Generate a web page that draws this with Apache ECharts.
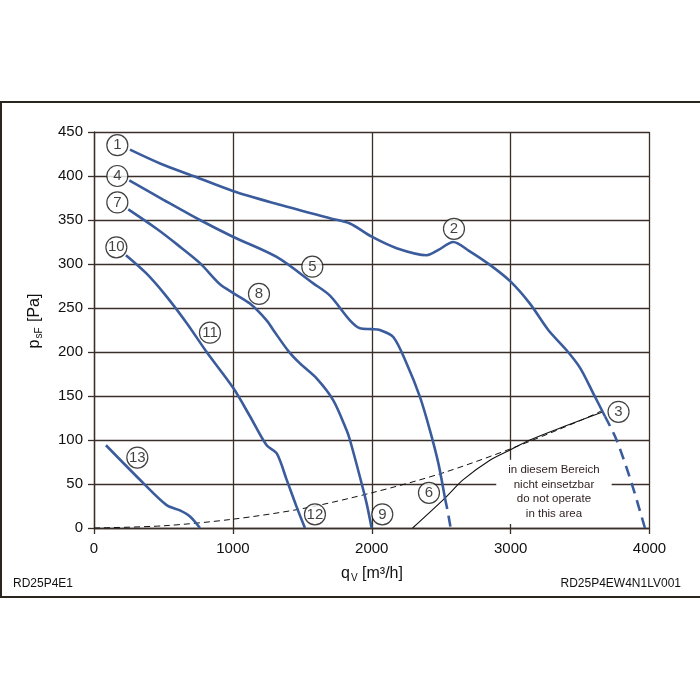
<!DOCTYPE html>
<html>
<head>
<meta charset="utf-8">
<script src="https://cdn.jsdelivr.net/npm/echarts@6/dist/echarts.min.js"></script>
<style>html,body{margin:0;padding:0;background:#fff;}#c{width:700px;height:700px;}</style>
</head>
<body>
<div id="c"></div>
<script>
// ---- data (q in m3/h, p in Pa) ----
var xTicks = [0, 1000, 2000, 3000, 4000];
var yTicks = [0, 50, 100, 150, 200, 250, 300, 350, 400, 450];

var curveA = [[259,430],[480,414],[715,400],[1000,383],[1300,369],[1699,352],[1843,346],[2000,331],[2179,318],[2396,310],[2480,316],[2587,325],[2700,315],[2851,299],[3000,280],[3139,255],[3271,225],[3403,202],[3500,182],[3595,153],[3679,127]];
var curveADash = [[3679,127],[3763,100],[3871,51],[3967,0]];

var curveB = [[254,395],[500,373],[763,350],[1000,331],[1315,308],[1579,278],[1699,264],[1843,236],[1915,227],[2000,226],[2059,225],[2155,217],[2251,187],[2347,149],[2419,111],[2479,74],[2527,34]];
var curveBDash = [[2527,34],[2548,18],[2568,0]];

var curveC = [[247,362],[451,340],[600,322],[763,301],[907,277],[1003,267],[1123,255],[1243,236],[1291,225],[1400,201],[1483,187],[1603,170],[1723,145],[1819,111],[1843,100],[1915,58],[1963,28],[1999,0]];

var curveD = [[230,310],[379,289],[523,263],[667,233],[811,200],[1003,159],[1123,127],[1243,94],[1315,85],[1387,55],[1459,24],[1519,0]];

var curveE = [[86,94],[355,51],[523,26],[619,20],[691,13],[763,0]];

var systemCurve = [[0,0],[500,2.5],[1000,10],[1500,22],[2000,40],[2500,62],[3000,90],[3500,122],[3667,134]];

var limitCurve = [[2294,0],[2527,34],[2659,55],[2851,77],[3000,89],[3139,100],[3379,115],[3667,132]];

var curveLabels = ['1','2','3','4','5','6','7','8','9','10','11','12','13'];
var labelPos = [[168,435],[2592,340],[3777,132],[168,400],[1572,297],[2412,40],[168,370],[1188,266],[2076,15.5],[161,319],[835,222],[1591,15.5],[312,80]];

var areaNote = ['in diesem Bereich', 'nicht einsetzbar', 'do not operate', 'in this area'];
var areaNotePos = [3312, 41];

var codeLeft = 'RD25P4E1';
var codeRight = 'RD25P4EW4N1LV001';

// ---- chart ----
var BLUE = '#3b5c9c';
var GRID = '#3a2f28';
var chart = echarts.init(document.getElementById('c'), null, {renderer: 'canvas'});

function blue(data, dashed) {
  return {
    type: 'line', data: data, showSymbol: false, symbol: 'none', smooth: 0.3,
    lineStyle: {color: BLUE, width: 2.6, type: dashed ? [11, 7] : 'solid'},
    z: 3, silent: true
  };
}

var labelData = curveLabels.map(function (t, i) { return {value: labelPos[i], name: t}; });

var option = {
  backgroundColor: '#ffffff',
  animation: false,
  textStyle: {fontFamily: 'Liberation Sans, Arial, sans-serif'},
  grid: {left: 94, right: 50.5, top: 132, bottom: 172},
  xAxis: {
    type: 'value', min: xTicks[0], max: xTicks[xTicks.length - 1], interval: 1000,
    axisLine: {show: true, lineStyle: {color: GRID, width: 1.3}},
    axisTick: {show: true, length: 6, lineStyle: {color: GRID, width: 1.3}},
    axisLabel: {color: '#111', fontSize: 15, margin: 13, fontFamily: 'Liberation Sans',
      formatter: function (v) { return String(v); }},
    splitLine: {show: true, lineStyle: {color: GRID, width: 1.3}}
  },
  yAxis: {
    type: 'value', min: yTicks[0], max: yTicks[yTicks.length - 1], interval: 50,
    axisLine: {show: true, lineStyle: {color: GRID, width: 1.3}},
    axisTick: {show: true, length: 6, lineStyle: {color: GRID, width: 1.3}},
    axisLabel: {color: '#111', fontSize: 15, margin: 11, fontFamily: 'Liberation Sans',
      formatter: function (v) { return String(v); }},
    splitLine: {show: true, lineStyle: {color: GRID, width: 1.3}}
  },
  series: [
    {type: 'line', data: systemCurve, showSymbol: false, symbol: 'none', smooth: 0.3,
     lineStyle: {color: '#111', width: 1, type: [6, 4]}, z: 2, silent: true},
    {type: 'line', data: limitCurve, showSymbol: false, symbol: 'none', smooth: 0.3,
     lineStyle: {color: '#111', width: 1.1}, z: 2, silent: true},
    blue(curveA), blue(curveADash, true),
    blue(curveB), blue(curveBDash, true),
    blue(curveC), blue(curveD), blue(curveE),
    {type: 'scatter', data: labelData, symbol: 'circle', symbolSize: 21, z: 5, silent: true,
     itemStyle: {color: '#fff', borderColor: '#111', borderWidth: 1.2},
     label: {show: true, position: 'inside', formatter: '{b}', color: '#111', fontSize: 15,
       textBorderWidth: 0, fontFamily: 'Liberation Sans'}}
  ],
  graphic: [
    {type: 'polyline', shape: {points: [[700, 102], [1, 102], [1, 597], [700, 597]]},
     style: {stroke: '#2b2520', lineWidth: 2, fill: null}, silent: true},
    {type: 'text', x: 35, y: 321, rotation: Math.PI / 2,
     style: {text: '{a|p}{b|sF}{a| [Pa]}', align: 'center', verticalAlign: 'middle',
       rich: {a: {fontSize: 16, fill: '#111', fontFamily: 'Liberation Sans', lineHeight: 18, verticalAlign: 'middle'},
              b: {fontSize: 10, fill: '#111', fontFamily: 'Liberation Sans', lineHeight: 18, verticalAlign: 'bottom', padding: [6, 1, 0, 1]}}}},
    {type: 'text', x: 372, y: 574,
     style: {text: '{a|q}{b|V}{a| [m³/h]}', align: 'center', verticalAlign: 'middle',
       rich: {a: {fontSize: 16, fill: '#111', fontFamily: 'Liberation Sans', lineHeight: 18, verticalAlign: 'middle'},
              b: {fontSize: 10, fill: '#111', fontFamily: 'Liberation Sans', lineHeight: 18, verticalAlign: 'bottom', padding: [6, 0, 0, 1]}}}},
    {type: 'text', x: 13, y: 584,
     style: {text: codeLeft, fontSize: 12, fill: '#111', fontFamily: 'Liberation Sans', verticalAlign: 'middle'}},
    {type: 'text', x: 681, y: 584,
     style: {text: codeRight, fontSize: 12, fill: '#111', fontFamily: 'Liberation Sans', align: 'right', verticalAlign: 'middle'}}
  ]
};
chart.setOption(option);

// note box placed through the chart's own scales
var notePx = chart.convertToPixel({gridIndex: 0}, areaNotePos);
chart.setOption({
  graphic: [{
    type: 'text', id: 'note', x: notePx[0], y: notePx[1], z: 1, silent: true,
    style: {text: areaNote.join('\n'), align: 'center', verticalAlign: 'middle',
      fill: '#2e1e1e', fontSize: 11.5, lineHeight: 14.6, fontFamily: 'Liberation Sans',
      backgroundColor: '#fff', padding: [3, 12, 3, 12]}
  }]
});
</script>
</body>
</html>
